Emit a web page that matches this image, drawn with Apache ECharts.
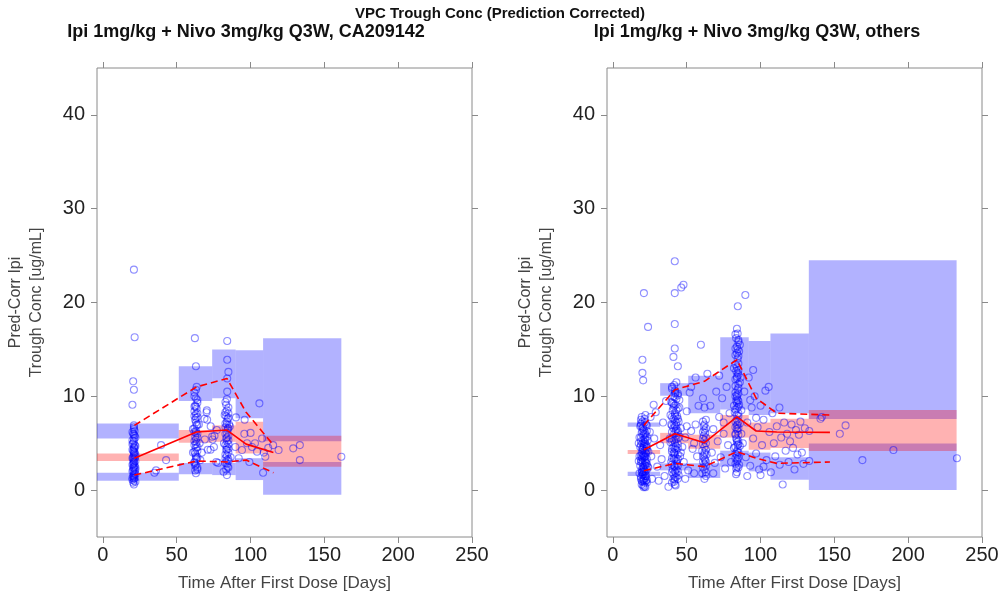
<!DOCTYPE html>
<html>
<head>
<meta charset="utf-8">
<script src="https://cdn.jsdelivr.net/npm/echarts@6/dist/echarts.min.js"></script>
<style>
  html, body { margin: 0; padding: 0; background: #ffffff; }
  #chart { width: 1004px; height: 602px; }
</style>
</head>
<body>
<div id="chart"></div>
<script>
// ---- text ----
const mainTitle = 'VPC Trough Conc (Prediction Corrected)';
const panelTitles = ['Ipi 1mg/kg + Nivo 3mg/kg Q3W, CA209142', 'Ipi 1mg/kg + Nivo 3mg/kg Q3W, others'];
const xAxisTitle = 'Time After First Dose [Days]';
const yAxisTitle = 'Pred-Corr Ipi\nTrough Conc [ug/mL]';

// ---- axes ----
const xRange = [-4, 250];
const yRange = [-5, 45];
const xTickValues = [0, 50, 100, 150, 200, 250];
const yTickValues = [0, 10, 20, 30, 40];

// ---- CA209142: simulated prediction intervals per time bin ----
const leftBinStart = [-4, 51.4, 74, 89.9, 108.5];
const leftBinEnd   = [51.4, 74, 89.9, 108.5, 161.5];
const leftHiLo  = [5.5, 9.5, 9.8, 7.65, 5.2];    // 95th percentile PI
const leftHiHi  = [7.1, 13.2, 15.0, 14.9, 16.2];
const leftMidLo = [3.1, 5.05, 5.15, 3.9, 2.5];   // median PI
const leftMidHi = [3.9, 6.4, 6.9, 7.3, 5.8];
const leftLoLo  = [1.0, 1.7, 1.6, 1.07, -0.5];   // 5th percentile PI
const leftLoHi  = [1.85, 2.9, 2.9, 3.4, 3.0];

// observed percentiles per bin
const leftObsTime = [21.3, 63.4, 84, 97, 115.5];
const leftObsMed  = [3.4, 6.2, 6.4, 4.9, 4.0];
const leftObsP95  = [6.9, 11.0, 11.9, 8.3, 4.8];
const leftObsP05  = [1.6, 3.1, 3.0, 3.2, 1.85];

// observed prediction-corrected concentrations [day, conc]
const leftObs = [
  [21,23.5],[21.5,16.3],[20.5,11.6],[21,10.7],[20,9.1],[21,6.9],[21,6.5],[20.5,6.0],[21.5,5.8],[21,5.5],
  [21,5.2],[20.5,5.0],[21.5,4.8],[21,4.6],[21,4.4],[20.5,4.2],[21.5,4.0],[21,3.9],[21,3.7],[20.5,3.5],
  [21.5,3.4],[21,3.2],[21,3.0],[20.5,2.8],[21.5,2.6],[21,2.5],[21,2.3],[20.5,2.1],[21.5,2.0],[21,1.8],
  [21,1.6],[20.5,1.5],[21.5,1.3],[21,1.2],[21,1.0],[20.5,0.8],[22,3.6],[20,4.9],[22,2.2],[20,1.1],
  [21,5.9],[21,4.1],[21,2.9],[21,1.4],[20.5,3.3],[21.5,4.5],[20.5,2.4],[21.5,6.3],
  [34.9,1.85],[39.4,4.8],[42.8,3.2],[36,2.1],
  [62.3,16.2],[63,13.2],[63.5,11.0],[62,10.4],[63,9.8],[64,9.3],[62.5,9.0],[63.5,8.7],[62,8.4],[63,8.1],
  [64,7.8],[62.5,7.5],[63,7.2],[63.5,6.9],[62,6.6],[63,6.3],[64,6.0],[62.5,5.7],[63,5.4],[63.5,5.1],
  [62,4.8],[63,4.5],[64,4.2],[62.5,3.9],[63,3.6],[63.5,3.3],[62,3.0],[63,2.7],[64,2.4],[62.5,2.1],
  [65,7.0],[65.5,5.0],[61,4.0],[61,6.5],[63,8.9],[63,7.7],[63,6.1],[63,4.9],[63,3.4],[62.5,2.6],
  [70.2,8.3],[70.6,7.5],[74,5.7],[75.2,4.6],[72.9,4.3],[68.8,7.6],[70.4,8.5],[75.6,5.8],[77.2,6.4],[74.3,5.4],
  [71,4.3],[76.8,3.0],[67,4.0],[69,5.4],[73,6.8],[66,3.2],[78,2.9],
  [84.2,15.9],[84.2,13.9],[85,12.6],[84.2,11.9],[84.2,10.5],[83.5,9.1],[84,8.5],[85,8.2],[83.5,7.9],[84.5,7.6],
  [84,7.3],[85.5,7.0],[83,6.7],[84.5,6.4],[84,6.1],[85,5.8],[83.5,5.5],[84,5.2],[85,4.9],[84,4.6],
  [83.5,4.3],[85,4.0],[84,3.7],[83,3.4],[85,3.1],[84,2.8],[84.5,2.5],[83.5,2.2],[81.7,1.95],[86,6.8],
  [82,5.0],[86.5,3.5],[82.5,8.0],[84,7.0],[84,5.6],[84,4.3],[84,3.2],[84.5,6.6],
  [96,7.5],[106,9.25],[100,6.1],[97.6,5.0],[94.2,4.27],[104.4,4.1],[107.8,5.5],[110,3.56],[108.5,1.85],[99.2,3.0],
  [89.7,4.6],[90.1,7.75],[95.8,6.0],[103,5.0],[115.3,4.8],[119,4.27],[128.9,4.45],[133.4,4.8],[133.4,3.2],[161.5,3.56],
  [112,4.5],[109,4.0],[92,3.4],[101,4.6]
];
// densely sampled cores of the three main visits
const leftObsCore = [
  [20,6.2],[22,5.6],[20,5.3],[22,4.7],[20,4.3],[22,3.8],[20,3.4],[22,3.1],[20,2.7],[22,2.4],
  [20,2.0],[22,1.7],[20,1.3],[22,0.9],[21,6.7],[21,0.6],
  [62,10.0],[64,9.6],[62,8.9],[64,8.2],[62,7.9],[64,7.0],[62,6.2],[64,5.6],[62,5.2],[64,4.6],
  [62,4.1],[64,3.5],[62,2.9],[64,2.2],[63,10.7],[63,1.8],
  [83,9.4],[85,8.8],[83,8.3],[85,7.7],[83,7.1],[85,6.6],[83,6.0],[85,5.3],[83,4.8],[85,4.4],
  [83,3.8],[85,3.3],[83,2.9],[85,2.4],[84,1.6],[84,9.7]
];

// ---- others: simulated prediction intervals per time bin ----
const rightBinStart = [10, 32, 51, 72.7, 92, 106.7, 132.7];
const rightBinEnd   = [32, 51, 72.7, 92, 106.7, 132.7, 232.8];
const rightHiLo  = [6.75, 10.06, 8.2, 8.6, 8.0, 8.2, 7.57];
const rightHiHi  = [7.2, 11.4, 12.2, 16.3, 15.9, 16.7, 24.5];
const rightMidLo = [3.84, 5.0, 4.4, 5.6, 4.3, 4.5, 4.16];
const rightMidHi = [4.27, 6.1, 5.9, 8.0, 7.2, 7.6, 8.53];
const rightLoLo  = [1.5, 2.1, 1.3, 2.5, 2.0, 1.1, 0.0];
const rightLoHi  = [1.95, 2.85, 2.85, 4.2, 4.0, 3.5, 4.98];

const rightObsTime = [21, 42, 62, 84, 97, 111, 147];
const rightObsMed  = [4.3, 6.0, 5.05, 7.8, 6.3, 6.2, 6.15];
const rightObsP95  = [6.9, 10.7, 11.6, 13.9, 9.8, 8.2, 8.0];
const rightObsP05  = [2.06, 2.85, 2.5, 4.1, 3.4, 2.85, 3.0];

const rightObs = [
  [21,21.0],[23.8,17.4],[20,13.9],[20,12.5],[20.5,11.7],[22,8.0],[19,7.5],[20,7.3],[21.5,7.2],[22.5,7.0],
  [18.5,6.8],[20,6.6],[21,6.4],[23,6.3],[19.5,6.1],[22,5.9],[20.5,5.8],[18,5.6],[21.5,5.5],[23.5,5.3],
  [19,5.2],[20,5.0],[22,4.9],[21,4.7],[18.5,4.6],[23,4.5],[20,4.3],[21.5,4.2],[19.5,4.0],[22.5,3.9],
  [20.5,3.7],[18,3.6],[21,3.5],[23,3.3],[19,3.2],[22,3.0],[20,2.9],[21.5,2.7],[18.5,2.6],[23.5,2.5],
  [20.5,2.3],[19.5,2.2],[22,2.0],[21,1.9],[18,1.8],[20,1.6],[22.5,1.5],[19,1.4],[21,1.2],[23,1.1],
  [20,0.9],[21.5,0.8],[19.5,0.6],[22,0.3],[17.5,3.1],[24,4.1],[17.5,5.0],[24,2.4],[25,6.2],[26,3.6],
  [27.6,9.1],[26.5,1.2],[25.5,7.8],[20.8,0.3],[19,6.9],[22,6.1],[20,3.4],[21,2.1],[19.5,1.0],[23,5.7],
  [21,4.9],[20,4.5],[22,4.0],[21,3.8],[20,3.1],[22,2.6],[21,2.4],[20,1.9],[22,1.3],[21,1.0],
  [19,5.6],[23,4.7],[19,3.7],[23,2.8],[21,6.0],[20.5,5.3],[21.5,3.6],[20.5,1.7],
  [30,2.5],[32,4.8],[34,7.2],[35,1.5],[36,9.5],[33,3.3],[37.6,0.35],[28,5.5],[31,1.0],[29,8.3],
  [41.9,24.4],[41.9,21.0],[46.3,21.6],[47.8,21.9],[41.9,17.7],[41.9,15.1],[41,14.2],[44,13.2],[43,11.5],[40,11.0],
  [42,10.6],[44,10.3],[41,10.0],[43,9.7],[39.5,9.4],[42.5,9.1],[45,8.8],[40.5,8.5],[42,8.2],[43.5,7.9],
  [41,7.6],[44.5,7.3],[39.5,7.0],[42,6.8],[43,6.5],[40,6.2],[41.5,6.0],[45,5.7],[42.5,5.4],[39,5.1],
  [44,4.9],[41,4.6],[43,4.3],[40,4.1],[42,3.8],[45.5,3.6],[41.5,3.3],[39.5,3.0],[43.5,2.8],[42,2.5],
  [40.5,2.2],[44,2.0],[41,1.7],[43,1.4],[42,1.1],[40,0.8],[44.5,1.6],[38.5,5.5],[46,6.6],[39,8.0],
  [45,9.6],[46,4.0],[42,9.9],[41,8.8],[43,7.2],[42,5.0],[41,3.9],[43,2.2],[42,1.4],[44,6.3],
  [42,10.3],[41,9.2],[43,8.5],[42,7.4],[41,6.6],[43,5.8],[42,4.4],[41,3.5],[43,3.1],[42,2.0],
  [40,5.5],[44,4.5],[40,3.4],[44,2.6],[42,0.6],[41,1.2],[43,6.9],[42,8.0],
  [48,3.0],[49,5.6],[50,8.4],[51,2.1],[52,10.4],[53,6.3],[54,4.4],[55,1.8],[56,7.0],[57,3.6],
  [58,9.0],[49,1.2],[53,11.0],[55,5.0],[50,6.8],[47,4.6],
  [59.6,15.5],[56,12.0],[64,12.4],[61,9.8],[62,8.8],[63,7.5],[61.5,6.8],[62.5,6.1],[61,5.5],[63,5.0],
  [62,4.6],[60.5,4.2],[63.5,3.8],[62,3.4],[61,3.0],[63,2.6],[62,2.2],[60.5,1.8],[63,1.5],[62,1.2],
  [61.5,5.8],[62.5,3.2],[62,7.0],[62,5.3],[62,4.0],[62,2.8],
  [66,9.0],[67,4.0],[68,6.5],[69,2.9],[70,10.5],[71,5.2],[72,7.8],[73,3.5],[74,9.8],[75,6.0],
  [76,2.3],[77,11.0],[78,4.8],[79,8.2],[80,3.0],[68,1.8],[72,12.2],[75,7.2],
  [84.6,19.6],[89.7,20.8],[84,17.2],[84.5,16.7],[83.5,16.2],[85,15.8],[84,15.3],[85.5,14.8],[83,14.4],[84.5,14.0],
  [85,13.5],[84,13.1],[83.5,12.7],[85,12.3],[84,11.9],[86,11.5],[83,11.1],[84.5,10.7],[85,10.3],[84,9.9],
  [83.5,9.5],[85.5,9.1],[84,8.7],[82.5,8.3],[85,7.9],[84,7.5],[86,7.1],[83,6.7],[84.5,6.3],[85,5.9],
  [83.5,5.5],[84,5.1],[86,4.7],[84.5,4.3],[83,3.9],[85,3.5],[84,3.1],[85.5,2.7],[83.5,2.3],[84,1.9],
  [83.4,1.7],[86.5,12.0],[82,9.0],[87,6.0],[82,4.5],[87,8.5],[86,15.5],[82,13.0],[84,10.1],[85,8.9],
  [84,6.9],[85,4.9],[84,3.7],[83,2.8],[84,14.6],[84,12.1],[84,9.3],[84,8.0],[84,6.5],[84,5.4],
  [84,4.1],[84,2.5],[85,11.3],[83,10.4],[85,7.3],[83,6.0],
  [88,5.0],[89,10.5],[90,3.5],[91,7.2],[92,12.0],[93,2.6],[94,8.8],[95,5.5],[96,10.0],[97,3.9],
  [98,6.7],[99,2.2],[100,9.0],[101,4.8],[102,7.5],[103.3,10.6],[105.5,11.0],[104,3.2],[106,6.2],[107,1.9],
  [108,8.2],[109,5.0],[110,3.6],[111,6.8],[112.8,8.8],[113,2.7],[114,5.6],[115,0.6],[116,7.2],[117,4.2],
  [118,6.0],[119,3.0],[120,5.2],[121,7.0],[122,4.5],[123,2.2],[124,6.4],[125,3.8],[126,5.9],[127,7.3],
  [128,4.0],[129,2.8],[130,6.6],[91,1.5],[95,12.8],[100,1.6],[93,9.6],[97,7.7],[102,2.5],
  [133,6.3],[133,3.1],[140.6,7.6],[141.5,7.8],[153.7,6.0],[157.6,6.9],[169,3.2],[190,4.27],[233,3.4]
];
// densely sampled cores of the main visits
const rightObsCore = [
  [19,7.1],[23,6.9],[20,6.3],[22,5.4],[19,4.8],[23,4.2],[20,3.9],[22,3.6],[19,3.0],[23,2.2],
  [20,2.0],[22,1.7],[19,1.2],[23,0.8],[20.5,0.5],[21.5,7.6],[20.5,6.7],[21.5,5.1],[20.5,4.4],[21.5,3.2],
  [20.5,2.5],[21.5,1.5],[20.5,1.1],[21.5,0.4],[19.5,7.8],[22.5,4.6],[19.5,3.5],[22.5,2.9],[19.5,1.9],[22.5,1.0],
  [40,10.8],[44,10.1],[40,9.3],[44,8.7],[40,7.8],[44,7.6],[40,6.9],[44,6.1],[40,5.2],[44,5.5],
  [40,4.4],[44,3.8],[40,2.7],[44,3.3],[40,1.9],[44,1.2],[41.5,11.2],[42.5,10.4],[41.5,9.0],[42.5,7.8],
  [41.5,7.0],[42.5,6.3],[41.5,5.3],[42.5,4.7],[41.5,4.0],[42.5,3.4],[41.5,2.6],[42.5,1.8],[41.5,0.9],[42.5,0.5],
  [61,7.3],[63,6.6],[61,6.2],[63,5.6],[61,4.9],[63,4.3],[61,3.6],[63,3.0],[61,2.4],[63,1.9],
  [62,6.4],[62,3.8],
  [83,16.6],[85,16.0],[83,15.1],[85,14.3],[83,13.4],[85,12.8],[83,11.8],[85,10.9],[83,10.0],[85,9.5],
  [83,8.6],[85,8.2],[83,7.3],[85,6.6],[83,5.9],[85,5.2],[83,4.6],[85,4.0],[83,3.4],[85,2.4],
  [84.5,15.0],[84.5,12.5],[84.5,9.6],[84.5,7.0],[84.5,4.8],[84.5,3.3]
];

// ---- build ----
const blueFill = 'rgba(0,0,255,0.3)';
const redFill = 'rgba(255,0,0,0.3)';
const frameColor = '#8a8a8a';
const font = 'Liberation Sans, Arial, Helvetica, sans-serif';

function bands(starts, ends, lo, hi) {
  return starts.map((s, i) => [s, ends[i], lo[i], hi[i]]);
}
function pairs(t, v) {
  return t.map((x, i) => [x, v[i]]);
}
function renderBand(params, api) {
  const a = api.coord([api.value(0), api.value(3)]);
  const b = api.coord([api.value(1), api.value(2)]);
  const cs = params.coordSys;
  return {
    type: 'rect',
    shape: echarts.graphic.clipRectByRect(
      { x: a[0], y: a[1], width: b[0] - a[0], height: b[1] - a[1] },
      { x: cs.x, y: cs.y, width: cs.width, height: cs.height }
    ),
    style: { fill: api.visual('color') }
  };
}

const gridLefts = [97, 607];
const grids = gridLefts.map(l => ({
  left: l, top: 68, width: 375, height: 469,
  show: true, borderColor: frameColor, borderWidth: 1, backgroundColor: 'transparent'
}));

const hiddenLine = { show: false, onZero: false };
const tickStyle = { show: true, length: 6, lineStyle: { color: frameColor } };

const xAxes = [];
const yAxes = [];
[0, 1].forEach(g => {
  xAxes.push({
    type: 'value', gridIndex: g, position: 'bottom', min: xRange[0], max: xRange[1],
    name: xAxisTitle, nameLocation: 'middle', nameGap: 38,
    nameTextStyle: { fontFamily: font, fontSize: 17, color: '#444' },
    axisLine: hiddenLine, splitLine: { show: false },
    axisTick: Object.assign({ customValues: xTickValues }, tickStyle),
    axisLabel: { fontFamily: font, fontSize: 20, color: '#222', margin: 8, customValues: xTickValues }
  });
  yAxes.push({
    type: 'value', gridIndex: g, position: 'left', min: yRange[0], max: yRange[1],
    name: yAxisTitle, nameLocation: 'middle', nameGap: 50, nameRotate: 90,
    nameTextStyle: { fontFamily: font, fontSize: 16, color: '#444', lineHeight: 21 },
    axisLine: hiddenLine, splitLine: { show: false },
    axisTick: Object.assign({ customValues: yTickValues }, tickStyle),
    axisLabel: { fontFamily: font, fontSize: 20, color: '#222', margin: 12, customValues: yTickValues }
  });
});
[0, 1].forEach(g => {
  xAxes.push({
    type: 'value', gridIndex: g, position: 'top', min: xRange[0], max: xRange[1],
    axisLine: hiddenLine, splitLine: { show: false }, axisLabel: { show: false },
    axisTick: Object.assign({ customValues: xTickValues }, tickStyle)
  });
  yAxes.push({
    type: 'value', gridIndex: g, position: 'right', min: yRange[0], max: yRange[1],
    axisLine: hiddenLine, splitLine: { show: false }, axisLabel: { show: false },
    axisTick: Object.assign({ customValues: yTickValues }, tickStyle)
  });
});

function panelSeries(g, p) {
  const base = { xAxisIndex: g, yAxisIndex: g, silent: true };
  const bandSeries = (data, color, z) => Object.assign({}, base, {
    type: 'custom', renderItem: renderBand, data: data, z: z,
    itemStyle: { color: color }, encode: { x: [0, 1], y: [2, 3] }
  });
  const line = (data, dashed) => Object.assign({}, base, {
    type: 'line', data: data, showSymbol: false, z: 5,
    lineStyle: { color: '#ff0000', width: 1.6, type: dashed ? [7, 4] : 'solid' }
  });
  return [
    bandSeries(bands(p.start, p.end, p.hiLo, p.hiHi), blueFill, 1),
    bandSeries(bands(p.start, p.end, p.loLo, p.loHi), blueFill, 1),
    bandSeries(bands(p.start, p.end, p.midLo, p.midHi), redFill, 2),
    Object.assign({}, base, {
      type: 'scatter', data: p.obs, z: 3, symbol: 'circle', symbolSize: 7,
      itemStyle: { color: 'rgba(0,0,0,0)', borderColor: 'rgba(0,0,255,0.55)', borderWidth: 1.1 }
    }),
    line(pairs(p.time, p.med), false),
    line(pairs(p.time, p.p95), true),
    line(pairs(p.time, p.p05), true)
  ];
}

const series = [].concat(
  panelSeries(0, {
    start: leftBinStart, end: leftBinEnd,
    hiLo: leftHiLo, hiHi: leftHiHi, midLo: leftMidLo, midHi: leftMidHi, loLo: leftLoLo, loHi: leftLoHi,
    obs: leftObs.concat(leftObsCore), time: leftObsTime, med: leftObsMed, p95: leftObsP95, p05: leftObsP05
  }),
  panelSeries(1, {
    start: rightBinStart, end: rightBinEnd,
    hiLo: rightHiLo, hiHi: rightHiHi, midLo: rightMidLo, midHi: rightMidHi, loLo: rightLoLo, loHi: rightLoHi,
    obs: rightObs.concat(rightObsCore), time: rightObsTime, med: rightObsMed, p95: rightObsP95, p05: rightObsP05
  })
);

const chart = echarts.init(document.getElementById('chart'), null, { renderer: 'canvas' });
chart.setOption({
  animation: false,
  backgroundColor: '#ffffff',
  grid: grids,
  xAxis: xAxes,
  yAxis: yAxes,
  series: series,
  graphic: [
    { type: 'text', x: 500, y: 14, style: { text: mainTitle, font: 'bold 15px ' + font, fill: '#111', textAlign: 'center', textVerticalAlign: 'middle' } },
    { type: 'text', x: 246, y: 32, style: { text: panelTitles[0], font: 'bold 18px ' + font, fill: '#111', textAlign: 'center', textVerticalAlign: 'middle' } },
    { type: 'text', x: 757, y: 32, style: { text: panelTitles[1], font: 'bold 18px ' + font, fill: '#111', textAlign: 'center', textVerticalAlign: 'middle' } }
  ]
});
</script>
</body>
</html>
